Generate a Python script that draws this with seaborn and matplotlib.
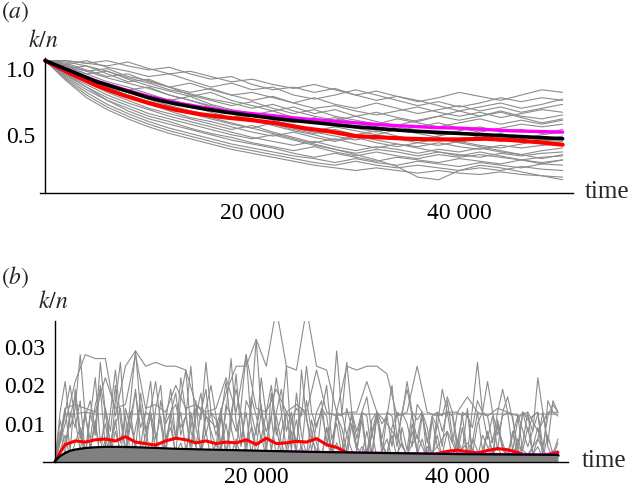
import pandas as pd
import seaborn as sns
import matplotlib.pyplot as plt

sns.set_theme(style='white')
plt.rcParams['font.family'] = ['Liberation Serif', 'DejaVu Serif']
plt.rcParams['mathtext.fontset'] = 'stix'

# ---- panel (a): k/n trajectories, sampled every 2000 time steps
t_a = list(range(0, 50001, 2000))
runs_a = [
    [1.0, 1.0, 0.98, 1.0, 0.96, 0.93, 0.95, 0.90, 0.86, 0.88, 0.82, 0.78, 0.80, 0.76, 0.79, 0.74, 0.70, 0.73, 0.69, 0.72, 0.76, 0.73, 0.70, 0.74, 0.78, 0.76],
    [1.0, 0.97, 1.0, 0.95, 0.92, 0.88, 0.90, 0.85, 0.80, 0.83, 0.78, 0.80, 0.74, 0.71, 0.74, 0.78, 0.74, 0.70, 0.66, 0.69, 0.65, 0.68, 0.72, 0.69, 0.72, 0.70],
    [1.0, 0.96, 0.92, 0.94, 0.88, 0.85, 0.80, 0.83, 0.78, 0.74, 0.70, 0.73, 0.68, 0.72, 0.67, 0.64, 0.68, 0.64, 0.60, 0.63, 0.66, 0.62, 0.65, 0.61, 0.64, 0.67],
    [1.0, 0.98, 0.93, 0.88, 0.90, 0.84, 0.80, 0.76, 0.79, 0.74, 0.76, 0.72, 0.68, 0.64, 0.66, 0.62, 0.59, 0.62, 0.65, 0.61, 0.58, 0.61, 0.57, 0.60, 0.63, 0.61],
    [1.0, 0.95, 0.90, 0.92, 0.86, 0.81, 0.77, 0.73, 0.76, 0.70, 0.66, 0.62, 0.65, 0.60, 0.63, 0.58, 0.61, 0.57, 0.54, 0.58, 0.55, 0.58, 0.62, 0.58, 0.56, 0.59],
    [1.0, 0.94, 0.96, 0.90, 0.84, 0.86, 0.80, 0.74, 0.70, 0.66, 0.69, 0.64, 0.60, 0.63, 0.58, 0.55, 0.52, 0.56, 0.53, 0.50, 0.53, 0.56, 0.52, 0.55, 0.52, 0.55],
    [1.0, 0.93, 0.88, 0.82, 0.78, 0.80, 0.74, 0.70, 0.66, 0.62, 0.59, 0.62, 0.57, 0.54, 0.57, 0.53, 0.50, 0.47, 0.50, 0.53, 0.49, 0.46, 0.49, 0.52, 0.50, 0.52],
    [1.0, 0.96, 0.90, 0.84, 0.80, 0.75, 0.70, 0.73, 0.67, 0.63, 0.60, 0.56, 0.53, 0.57, 0.52, 0.49, 0.46, 0.50, 0.47, 0.44, 0.47, 0.50, 0.46, 0.48, 0.45, 0.48],
    [1.0, 0.92, 0.86, 0.80, 0.76, 0.71, 0.66, 0.62, 0.58, 0.61, 0.56, 0.52, 0.48, 0.45, 0.48, 0.44, 0.47, 0.43, 0.40, 0.43, 0.46, 0.42, 0.45, 0.41, 0.44, 0.46],
    [1.0, 0.94, 0.87, 0.80, 0.74, 0.69, 0.64, 0.60, 0.56, 0.52, 0.49, 0.53, 0.49, 0.46, 0.43, 0.40, 0.44, 0.41, 0.38, 0.41, 0.38, 0.42, 0.39, 0.42, 0.40, 0.43],
    [1.0, 0.91, 0.84, 0.77, 0.72, 0.67, 0.62, 0.57, 0.54, 0.50, 0.46, 0.43, 0.46, 0.42, 0.39, 0.42, 0.38, 0.35, 0.38, 0.36, 0.39, 0.36, 0.34, 0.37, 0.40, 0.39],
    [1.0, 0.92, 0.84, 0.76, 0.70, 0.64, 0.60, 0.56, 0.52, 0.48, 0.51, 0.46, 0.42, 0.38, 0.41, 0.37, 0.34, 0.37, 0.35, 0.38, 0.35, 0.33, 0.36, 0.34, 0.36, 0.37],
    [1.0, 0.90, 0.82, 0.74, 0.68, 0.63, 0.58, 0.54, 0.50, 0.46, 0.42, 0.39, 0.36, 0.39, 0.35, 0.32, 0.35, 0.33, 0.30, 0.33, 0.31, 0.34, 0.31, 0.29, 0.32, 0.34],
    [1.0, 0.89, 0.80, 0.72, 0.66, 0.60, 0.56, 0.52, 0.48, 0.44, 0.41, 0.44, 0.40, 0.36, 0.33, 0.30, 0.33, 0.31, 0.28, 0.31, 0.29, 0.27, 0.30, 0.28, 0.30, 0.31],
    [1.0, 0.88, 0.78, 0.70, 0.64, 0.58, 0.54, 0.49, 0.45, 0.42, 0.38, 0.35, 0.32, 0.35, 0.31, 0.28, 0.31, 0.28, 0.26, 0.29, 0.27, 0.29, 0.27, 0.25, 0.27, 0.28],
    [1.0, 0.90, 0.80, 0.70, 0.62, 0.56, 0.52, 0.48, 0.44, 0.40, 0.37, 0.34, 0.30, 0.27, 0.30, 0.27, 0.24, 0.27, 0.25, 0.23, 0.26, 0.24, 0.22, 0.25, 0.23, 0.25],
    [1.0, 0.87, 0.76, 0.67, 0.60, 0.54, 0.49, 0.45, 0.41, 0.37, 0.34, 0.31, 0.28, 0.26, 0.23, 0.26, 0.23, 0.21, 0.24, 0.22, 0.20, 0.23, 0.21, 0.19, 0.22, 0.21],
    [1.0, 0.86, 0.74, 0.65, 0.58, 0.52, 0.47, 0.43, 0.39, 0.35, 0.32, 0.29, 0.26, 0.23, 0.21, 0.24, 0.21, 0.19, 0.21, 0.19, 0.17, 0.19, 0.17, 0.20, 0.18, 0.17],
    [1.0, 0.85, 0.72, 0.63, 0.56, 0.50, 0.45, 0.41, 0.37, 0.33, 0.30, 0.27, 0.24, 0.21, 0.19, 0.17, 0.19, 0.17, 0.15, 0.17, 0.15, 0.14, 0.16, 0.14, 0.13, 0.12],
    [1.0, 0.95, 0.88, 0.82, 0.76, 0.71, 0.66, 0.62, 0.57, 0.53, 0.49, 0.45, 0.41, 0.37, 0.33, 0.29, 0.25, 0.20, 0.12, 0.10, 0.17, 0.21, 0.19, 0.16, 0.13, 0.10],
    [1.0, 1.0, 0.98, 0.96, 0.99, 0.94, 0.90, 0.92, 0.88, 0.84, 0.86, 0.82, 0.79, 0.82, 0.78, 0.74, 0.77, 0.73, 0.70, 0.66, 0.62, 0.58, 0.61, 0.57, 0.53, 0.56],
    [1.0, 0.99, 0.96, 0.92, 0.87, 0.83, 0.78, 0.75, 0.71, 0.68, 0.64, 0.67, 0.62, 0.58, 0.55, 0.58, 0.54, 0.51, 0.55, 0.58, 0.62, 0.65, 0.68, 0.64, 0.67, 0.71],
    [1.0, 0.93, 0.85, 0.78, 0.73, 0.68, 0.71, 0.66, 0.61, 0.57, 0.60, 0.55, 0.51, 0.47, 0.50, 0.47, 0.44, 0.48, 0.45, 0.42, 0.38, 0.35, 0.32, 0.29, 0.26, 0.29],
    [1.0, 0.97, 0.92, 0.87, 0.83, 0.79, 0.74, 0.70, 0.65, 0.60, 0.55, 0.51, 0.47, 0.44, 0.40, 0.43, 0.40, 0.37, 0.34, 0.31, 0.28, 0.31, 0.28, 0.25, 0.22, 0.25],
]

t_mean_a = [0, 2500, 5000, 7500, 10000, 12500, 15000, 17500, 20000, 22500, 25000,
            27500, 30000, 32500, 35000, 37500, 40000, 42500, 45000, 47500, 50000]
red_a = [1.0, 0.90, 0.81, 0.74, 0.68, 0.63, 0.595, 0.57, 0.55, 0.525, 0.49,
         0.465, 0.43, 0.42, 0.41, 0.405, 0.405, 0.41, 0.40, 0.385, 0.365]
black_a = [1.0, 0.92, 0.84, 0.78, 0.72, 0.675, 0.64, 0.61, 0.585, 0.56, 0.54,
           0.52, 0.50, 0.485, 0.47, 0.46, 0.45, 0.44, 0.43, 0.42, 0.41]
magenta_a = [1.0, 0.92, 0.845, 0.785, 0.73, 0.685, 0.65, 0.62, 0.60, 0.58, 0.56,
             0.545, 0.53, 0.515, 0.505, 0.495, 0.49, 0.48, 0.47, 0.465, 0.46]

# ---- panel (b): slow runs sampled every 1000 steps
t_b_slow = list(range(0, 50001, 1000))
runs_b_slow = [
    [0, .0125, .0125, .013, .0125, .0125, .0125, .0125, .0125, .0125,
     .0125, .0125, .0125, .0125, .0125, .0125, .0125, .0125, .0125, .0125,
     .0125, .0125, .0125, .0125, .0125, .0125, .0125, .0125, .0125, .0125,
     .0125, .0125, .0125, .0125, .0125, .0125, .0125, .0125, .0125, .0125,
     .0125, .0125, .0125, .0125, .0125, .0125, .0125, .004, .0125, .0125, .0125],
    [0, .010, .021, .028, .027, .027, .012, .025, .029, .025,
     .026, .025, .025, .024, .015, .012, .009, .018, .025, .025,
     .032, .025, .040, .025, .024, .040, .025, .024, .013, .025,
     .024, .025, .025, .023, .012, .013, .025, .013, .012, .013,
     .013, .017, .013, .012, .014, .013, .012, .013, .008, .013, .013],
    [0, .014, .015, .014, .013, .022, .014, .015, .028, .014,
     .015, .013, .020, .014, .015, .013, .014, .022, .013, .028,
     .014, .013, .019, .013, .015, .013, .024, .013, .012, .013,
     .013, .021, .013, .010, .006, .002, .007, .001, .004, .008,
     .002, .005, .001, .003, .009, .001, .004, .002, .006, .001, .003],
]

# ---- panel (b): fast runs sampled every 500 steps
t_b_fast = list(range(0, 50001, 500))
runs_b_fast = [
    [0, .006, .014, .003, .019, .008, .001, .012, .022, .005,
     .010, .002, .016, .026, .007, .013, .003, .018, .009, .001,
     .014, .020, .006, .011, .002, .017, .024, .008, .004, .013,
     .019, .006, .001, .012, .021, .009, .003, .015, .028, .010,
     .004, .013, .002, .018, .007, .012, .025, .005, .011, .003,
     .016, .008, .001, .013, .020, .006, .010, .002, .014, .009,
     .003, .011, .001, .007, .012, .004, .002, .009, .013, .005,
     .001, .008, .003, .012, .006, .001, .010, .004, .016, .007,
     .002, .009, .001, .005, .013, .003, .008, .002, .011, .004,
     .001, .007, .012, .003, .009, .002, .006, .013, .004, .001, .005],
    [0, .011, .004, .013, .009, .016, .002, .013, .007, .020,
     .013, .005, .011, .001, .014, .009, .019, .004, .013, .012,
     .003, .016, .010, .013, .006, .022, .013, .002, .012, .018,
     .007, .013, .011, .003, .015, .012, .008, .013, .001, .017,
     .012, .006, .013, .020, .009, .002, .013, .011, .005, .014,
     .012, .003, .010, .013, .006, .001, .012, .009, .003, .013,
     .008, .013, .002, .011, .013, .006, .013, .012, .004, .013,
     .019, .012, .006, .013, .009, .001, .013, .012, .017, .013,
     .005, .012, .013, .002, .010, .013, .021, .013, .007, .012,
     .013, .003, .011, .013, .008, .012, .013, .001, .016, .013, .012],
    [0, .003, .007, .001, .005, .009, .002, .004, .011, .001,
     .006, .002, .008, .003, .001, .010, .004, .002, .007, .012,
     .003, .001, .006, .009, .002, .005, .001, .013, .004, .002,
     .008, .001, .005, .003, .010, .002, .006, .001, .004, .009,
     .002, .007, .001, .003, .012, .005, .001, .008, .002, .004,
     .001, .006, .003, .001, .009, .002, .005, .001, .007, .003,
     .001, .004, .002, .008, .001, .003, .006, .001, .002, .005,
     .001, .010, .003, .001, .004, .002, .007, .001, .003, .001,
     .005, .002, .001, .006, .003, .001, .008, .002, .004, .001,
     .003, .001, .006, .002, .001, .004, .009, .002, .001, .003, .002],
    [0, .013, .021, .009, .014, .028, .012, .006, .015, .019,
     .004, .013, .024, .011, .003, .016, .029, .013, .008, .014,
     .021, .010, .002, .013, .018, .007, .012, .025, .009, .003,
     .014, .020, .012, .005, .013, .027, .010, .004, .016, .013,
     .007, .022, .012, .003, .013, .019, .008, .013, .002, .024,
     .011, .006, .013, .016, .004, .012, .029, .013, .007, .012,
     .003, .013, .017, .008, .013, .002, .012, .020, .006, .013,
     .010, .004, .015, .013, .001, .012, .009, .019, .013, .005,
     .013, .012, .002, .014, .026, .013, .006, .012, .003, .013,
     .017, .011, .004, .013, .012, .008, .022, .013, .005, .016, .013],
    [0, .008, .002, .012, .017, .006, .013, .003, .010, .001,
     .014, .008, .020, .005, .012, .002, .009, .015, .004, .013,
     .007, .001, .011, .019, .006, .013, .003, .009, .016, .002,
     .012, .008, .004, .014, .001, .010, .023, .006, .013, .002,
     .009, .015, .004, .012, .001, .008, .013, .003, .018, .007,
     .002, .011, .005, .001, .009, .003, .013, .006, .001, .010,
     .004, .002, .008, .001, .012, .005, .002, .007, .001, .009,
     .003, .013, .002, .006, .001, .011, .004, .002, .008, .001,
     .006, .003, .014, .002, .001, .007, .004, .001, .010, .003,
     .002, .008, .001, .005, .013, .002, .004, .001, .007, .002, .006],
    [0, .005, .013, .020, .011, .003, .012, .016, .008, .026,
     .013, .004, .010, .014, .002, .012, .018, .009, .013, .021,
     .006, .012, .003, .013, .015, .009, .012, .004, .014, .011,
     .026, .013, .007, .012, .002, .013, .019, .012, .004, .014,
     .032, .013, .008, .012, .022, .013, .003, .011, .014, .012,
     .025, .013, .009, .014, .012, .003, .013, .012, .026, .013,
     .006, .013, .012, .002, .013, .010, .012, .004, .013, .012,
     .021, .013, .011, .013, .005, .012, .013, .008, .013, .012,
     .003, .013, .012, .009, .016, .013, .012, .005, .013, .019,
     .013, .012, .002, .013, .011, .012, .013, .004, .012, .015, .013],
]

t_red_b = [0, 500] + list(range(1000, 50001, 1000))
red_b = [0, .0025, .0045, .0055, .0052, .0058, .0060, .0055, .0066, .0052, .0048,
         .0044, .0055, .0062, .0058, .0050, .0055, .0048, .0052, .0050, .0058,
         .0046, .0062, .0048, .0050, .0054, .0052, .0061, .0045, .0038, .0025,
         .0018, .0010, .0016, .0012, .0018, .0015, .0019, .0013, .0022, .0028,
         .0031, .0027, .0024, .0030, .0035, .0032, .0025, .0015, .0012, .0020, .0025]
t_black_b = [0, 250, 500, 1000, 1500, 2000, 3000, 4000, 5000, 6000, 8000, 10000,
             12000, 15000, 20000, 25000, 30000, 35000, 40000, 45000, 50000]
black_b = [0, .0008, .0014, .0022, .0028, .0031, .0035, .0037, .0038, .0038, .0037,
           .0035, .0033, .0031, .0028, .0025, .0023, .0021, .0019, .0018, .0017]
magenta_b = [0, .0008, .0014, .0022, .0028, .0031, .0035, .0037, .0038, .0038, .0037,
             .0036, .0034, .0032, .0030, .0028, .0026, .0024, .0023, .0022, .0021]


def long_form(t, runs, first=0):
    rows = []
    for i, r in enumerate(runs):
        for tt, v in zip(t, r):
            rows.append((first + i, tt, v))
    return pd.DataFrame(rows, columns=['run', 't', 'v'])


W, H = 630, 494
fig = plt.figure(figsize=(W / 100, H / 100), dpi=100)
ax_a = fig.add_axes([40 / W, (H - 193) / H, 533 / W, 135 / H])
ax_b = fig.add_axes([43 / W, (H - 462) / H, 525 / W, 141 / H])

GRAY = '#8c8c8c'

# panel (a)
sns.lineplot(data=long_form(t_a, runs_a), x='t', y='v', units='run', estimator=None,
             color=GRAY, linewidth=0.8, ax=ax_a, legend=False)
sns.lineplot(x=t_mean_a, y=red_a, color='#ff0000', linewidth=3.0, ax=ax_a)
sns.lineplot(x=t_mean_a, y=magenta_a, color='#ff00ff', linewidth=2.4, ax=ax_a)
sns.lineplot(x=t_mean_a, y=black_a, color='black', linewidth=2.6, ax=ax_a)
ax_a.set_xlim(-500, 51000)
ax_a.set_ylim(0, 1.02)
ax_a.set_yticks([0.5, 1.0], ['0.5', '1.0'])

# panel (b)
df_b = pd.concat([long_form(t_b_slow, runs_b_slow),
                  long_form(t_b_fast, runs_b_fast, first=len(runs_b_slow))])
sns.lineplot(data=df_b, x='t', y='v', units='run', estimator=None,
             color=GRAY, linewidth=0.8, ax=ax_b, legend=False)
ax_b.fill_between(t_black_b, 0, black_b, color='#808080', linewidth=0, zorder=2.5)
sns.lineplot(x=t_red_b, y=red_b, color='#ff0000', linewidth=2.2, ax=ax_b)
sns.lineplot(x=t_black_b, y=magenta_b, color='#cc00cc', linewidth=0.9, ax=ax_b)
sns.lineplot(x=t_black_b, y=black_b, color='black', linewidth=2.4, ax=ax_b)
ax_b.set_xlim(-1200, 51000)
ax_b.set_ylim(0, 0.0368)
ax_b.set_yticks([0.01, 0.02, 0.03], ['0.01', '0.02', '0.03'])

for ax, xpad in ((ax_a, 7), (ax_b, 3.5)):
    ax.set_xlabel('')
    ax.set_ylabel('')
    ax.set_xticks([20000, 40000], ['20 000', '40 000'])
    for s in ('top', 'right'):
        ax.spines[s].set_visible(False)
    for s in ('left', 'bottom'):
        ax.spines[s].set_color('black')
        ax.spines[s].set_linewidth(1.0)
    ax.spines['left'].set_position(('data', 0))
    ax.tick_params(axis='both', direction='in', length=4, width=1, color='black',
                   labelsize=17, labelcolor='black')
    ax.tick_params(axis='x', pad=xpad)
    ax.tick_params(axis='y', pad=7)
    ax.patch.set_alpha(0)

for lab in ax_a.get_yticklabels():
    lab.set_verticalalignment('top')

# panel labels, axis titles
fig.text(1 / W, 1 - 12 / H, r'$(a)$', fontsize=17, va='center', ha='left')
fig.text(1 / W, 1 - 277 / H, r'$(b)$', fontsize=17, va='center', ha='left')
fig.text(28 / W, 1 - 41 / H, r'$k/n$', fontsize=17, va='center', ha='left')
fig.text(38 / W, 1 - 302 / H, r'$k/n$', fontsize=17, va='center', ha='left')
fig.text(585 / W, 1 - 192 / H, 'time', fontsize=18, va='center', ha='left')
fig.text(582 / W, 1 - 461 / H, 'time', fontsize=18, va='center', ha='left')

fig.savefig('out.png', dpi=100)
